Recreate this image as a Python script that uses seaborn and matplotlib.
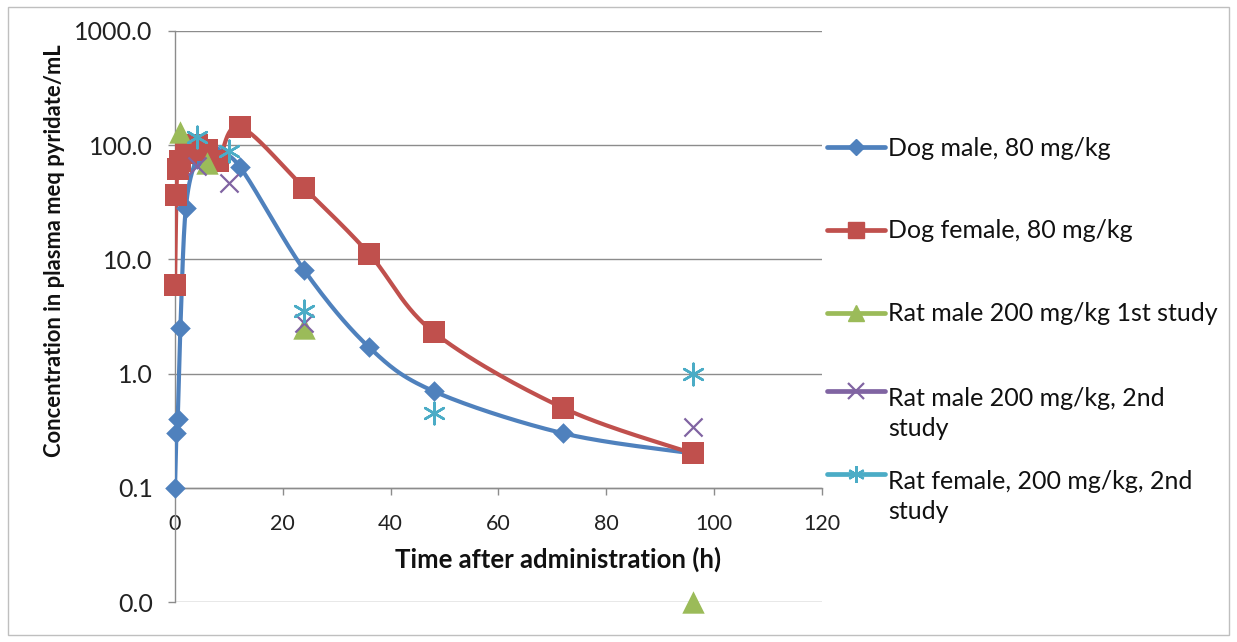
import numpy as np
import pandas as pd
import matplotlib
matplotlib.use("Agg")
import matplotlib.pyplot as plt
from matplotlib.lines import Line2D
from matplotlib.patches import Rectangle
from matplotlib.legend_handler import HandlerLine2D
from matplotlib.transforms import Affine2D
import seaborn as sns

# ---------------- data ----------------
dog_male_t = [0, 0.25, 0.5, 1, 2, 4, 6, 8, 12, 24, 36, 48, 72, 96]
dog_male_c = [0.1, 0.3, 0.4, 2.5, 28, 75, 82, 80, 65, 8.0, 1.7, 0.7, 0.3, 0.2]

dog_female_t = [0, 0.25, 0.5, 1, 2, 4, 6, 8, 12, 24, 36, 48, 72, 96]
dog_female_c = [6.0, 37, 62, 72, 85, 100, 90, 72, 145, 42, 11.2, 2.3, 0.5, 0.2]

rat_male1_t = [1, 6, 24, 96]
rat_male1_c = [130, 70, 2.5, 0.01]

rat_male2_t = [4, 10, 24, 96]
rat_male2_c = [66, 47, 2.8, 0.34]

rat_female2_t = [4, 10, 24, 48, 96]
rat_female2_c = [117, 89, 3.5, 0.45, 1.0]

labels = ["Dog male, 80 mg/kg",
          "Dog female, 80 mg/kg",
          "Rat male 200 mg/kg 1st study",
          "Rat male 200 mg/kg, 2nd\nstudy",
          "Rat female, 200 mg/kg, 2nd\nstudy"]
y_ticks = [0.01, 0.1, 1, 10, 100, 1000]
y_ticklabels = ["0.0", "0.1", "1.0", "10.0", "100.0", "1000.0"]
x_ticks = [0, 20, 40, 60, 80, 100, 120]

colors = ["#4F81BD", "#C0504D", "#9BBB59", "#8064A2", "#4BACC6"]

sns.set_style("white")
plt.rcParams["font.family"] = ["Lato", "DejaVu Sans"]

W, H = 1237, 642
fig = plt.figure(figsize=(W / 100, H / 100), dpi=100)
ax = fig.add_axes([175/W, 1-602/H, 647/W, 571/H])

def smooth(x, y, n=30):
    # Catmull-Rom style smoothing in (roughly) display-proportional space
    u = np.asarray(x, float) * 5.39
    v = np.log10(np.asarray(y, float)) * 114.2
    P = np.column_stack([u, v])
    P = np.vstack([P[0], P, P[-1]])
    out = []
    for i in range(1, len(P) - 2):
        p0, p1, p2, p3 = P[i-1], P[i], P[i+1], P[i+2]
        t = np.linspace(0, 1, n, endpoint=False)[:, None]
        pts = 0.5 * ((2*p1) + (-p0 + p2)*t + (2*p0 - 5*p1 + 4*p2 - p3)*t**2
                     + (-p0 + 3*p1 - 3*p2 + p3)*t**3)
        out.append(pts)
    out.append(P[-2][None, :])
    out = np.vstack(out)
    return out[:, 0] / 5.39, 10 ** (out[:, 1] / 114.2)

# dog lines (smoothed)
for t, c, col in [(dog_male_t, dog_male_c, colors[0]), (dog_female_t, dog_female_c, colors[1])]:
    sx, sy = smooth(t, c)
    sns.lineplot(x=sx, y=sy, sort=False, estimator=None, color=col, linewidth=3.0, ax=ax, zorder=3)

sns.scatterplot(x=dog_male_t, y=dog_male_c, marker="D", s=110, color=colors[0],
                edgecolor=colors[0], linewidth=0, ax=ax, zorder=4, clip_on=False)
sns.scatterplot(x=dog_female_t, y=dog_female_c, marker="s", s=230, color=colors[1],
                edgecolor=colors[1], linewidth=0, ax=ax, zorder=5, clip_on=False)
sns.scatterplot(x=rat_male1_t, y=rat_male1_c, marker="^", s=260, color=colors[2],
                edgecolor=colors[2], linewidth=0, ax=ax, zorder=6, clip_on=False)
sns.scatterplot(x=rat_male2_t, y=rat_male2_c, marker="x", s=170, color=colors[3],
                linewidth=1.6, ax=ax, zorder=7, clip_on=False)
sns.scatterplot(x=rat_female2_t, y=rat_female2_c, marker=(6, 2, 0), s=240, color=colors[4],
                linewidth=1.8, ax=ax, zorder=8, clip_on=False)

ax.set_yscale("log")
ax.set_ylim(0.01, 1000)
ax.set_xlim(0, 120)
ax.set_yticks(y_ticks)
ax.set_yticklabels(y_ticklabels)
ax.yaxis.set_minor_locator(matplotlib.ticker.NullLocator())
ax.set_xticks(x_ticks)
ax.set_xticklabels([str(v) for v in x_ticks])

ax.grid(axis="y", color="#8C8C8C", linewidth=1.0)
ax.grid(axis="x", visible=False)
ax.set_axisbelow(True)

for s in ["top", "right"]:
    ax.spines[s].set_visible(False)
ax.spines["bottom"].set_position(("data", 0.1))
ax.spines["bottom"].set_color("#8C8C8C")
ax.spines["left"].set_color("#8C8C8C")
ax.spines["bottom"].set_linewidth(1.0)
ax.spines["left"].set_linewidth(1.0)

ax.tick_params(axis="y", which="major", direction="out", length=5, width=1,
               color="#8C8C8C", pad=11, labelsize=18, labelcolor="#222222", left=True)
ax.tick_params(axis="x", which="major", direction="out", length=5, width=1,
               color="#8C8C8C", pad=14, labelsize=15.5, labelcolor="#222222", bottom=True)

ax.set_ylabel("Concentration in plasma meq pyridate/mL", fontsize=15.8, fontweight="bold",
              color="#111111")
ax.yaxis.set_label_coords(-0.170, 0.615)
ax.set_xlabel("Time after administration (h)", fontsize=18.5, fontweight="bold", color="#111111")
ax.xaxis.set_label_coords(0.592, 0.097)


class ShiftedHandler(HandlerLine2D):
    def __init__(self, shift=0.0, **kw):
        super().__init__(**kw)
        self.shift = shift

    def create_artists(self, legend, orig_handle, xdescent, ydescent, width, height,
                       fontsize, trans):
        arts = super().create_artists(legend, orig_handle, xdescent, ydescent, width,
                                      height, fontsize, trans)
        for a in arts:
            a.set_transform(Affine2D().translate(0, self.shift) + trans)
        return arts


handles = [
    Line2D([], [], color=colors[0], lw=3.4, marker="D", markersize=8),
    Line2D([], [], color=colors[1], lw=3.4, marker="s", markersize=12),
    Line2D([], [], color=colors[2], lw=3.4, marker="^", markersize=11),
    Line2D([], [], color=colors[3], lw=3.4, marker="x", markersize=11, markeredgewidth=1.6),
    Line2D([], [], color=colors[4], lw=3.4, marker=(6, 2, 0), markersize=12, markeredgewidth=1.6),
]

line_gap = 33.0
for i, (h, lab) in enumerate(zip(handles, labels)):
    y_first = 148 + 83 * i
    nlines = lab.count("\n") + 1
    yc = y_first + (nlines - 1) * line_gap / 2
    shift = (nlines - 1) * line_gap / 2
    leg = fig.legend([h], [lab], loc="center left", bbox_to_anchor=(827/W, 1 - yc/H),
                     frameon=False, fontsize=18, handlelength=2.3, handletextpad=0.15,
                     borderpad=0, borderaxespad=0,
                     handler_map={h: ShiftedHandler(shift=shift)})
    for t in leg.get_texts():
        t.set_linespacing(1.32)
        t.set_color("#111111")

fig.patches.append(Rectangle((8/W, 7/H), 1-16/W, 1-14/H, transform=fig.transFigure,
                             fill=False, edgecolor="#BFBFBF", linewidth=1.0))

fig.savefig("out.png", dpi=100)
